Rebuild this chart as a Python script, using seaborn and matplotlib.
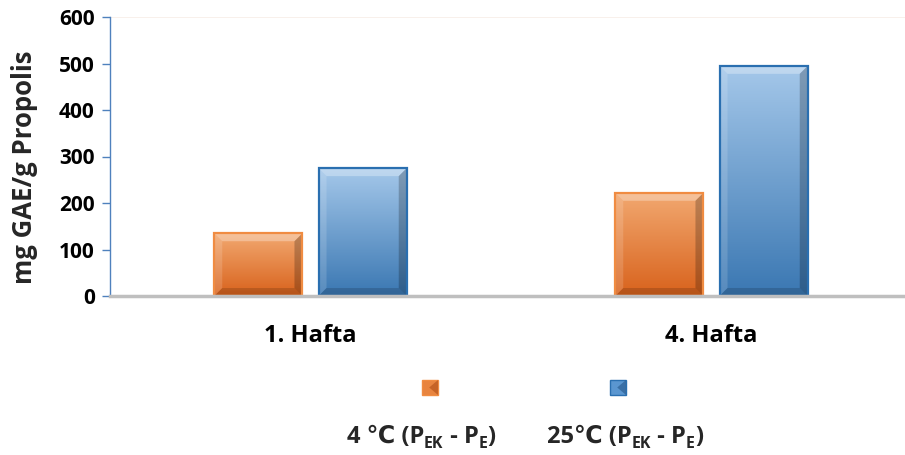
import re
import numpy as np
import pandas as pd
import matplotlib
matplotlib.use("Agg")
import matplotlib.pyplot as plt
import seaborn as sns
from matplotlib.colors import LinearSegmentedColormap
from matplotlib.patches import Polygon, Rectangle

# Data
weeks = ["1. Hafta", "4. Hafta"]
series = ["4 ℃ (P_{EK} - P_{E})", "25℃ (P_{EK} - P_{E})"]
cold_values = [135, 222]
warm_values = [275, 495]
y_ticks = [0, 100, 200, 300, 400, 500, 600]

sns.set_theme(style="white")
FAMILY = ["Open Sans", "DejaVu Sans"]
plt.rcParams["font.family"] = FAMILY
plt.rcParams["font.weight"] = "bold"

df = pd.DataFrame({
    "week": weeks * 2,
    "series": [series[0]] * len(weeks) + [series[1]] * len(weeks),
    "value": cold_values + warm_values,
})

palette = {series[0]: "#E8843F", series[1]: "#5A96D0"}
grad_colors = {series[0]: ("#F2A971", "#D8621C"), series[1]: ("#A5C8EA", "#3A77B2")}
edge_colors = {series[0]: "#F08C42", series[1]: "#2A6FB0"}
shade_colors = {series[0]: "#B8561C", series[1]: "#2C5F93"}

W, H = 905, 455
fig = plt.figure(figsize=(W / 100, H / 100), dpi=100)
ax = fig.add_axes([110 / W, (H - 296) / H, 802 / W, 279 / H])

sns.barplot(data=df, x="week", y="value", hue="series", hue_order=series,
            order=weeks, palette=palette, width=0.52, gap=0.154,
            legend=False, ax=ax, zorder=2)

xlim = (-0.5, 1.5)
ylim = (0, 600)

# bevel thickness, pixels converted to data units
px_x = (xlim[1] - xlim[0]) / 802
px_y = (ylim[1] - ylim[0]) / 279
bev = 8

bars = [p for p in ax.patches if isinstance(p, Rectangle) and p.get_height() > 0]
n = len(weeks)
for i, patch in enumerate(bars):
    s = series[i // n]
    top_c, bot_c = grad_colors[s]
    x0, y0 = patch.get_x(), patch.get_y()
    w, h = patch.get_width(), patch.get_height()
    x1, y1 = x0 + w, y0 + h
    cmap = LinearSegmentedColormap.from_list("g", [top_c, bot_c])
    grad = np.linspace(0, 1, 256)[:, None]
    ax.imshow(grad, extent=(x0, x1, y0, y1), origin="upper", cmap=cmap,
              aspect="auto", zorder=2.1, interpolation="bilinear")
    dx, dy = bev * px_x, bev * px_y
    A, B, C, D = (x0, y0), (x1, y0), (x1, y1), (x0, y1)
    a, b, c, d = (x0 + dx, y0 + dy), (x1 - dx, y0 + dy), (x1 - dx, y1 - dy), (x0 + dx, y1 - dy)
    for pts, col, al in [((D, C, c, d), "white", 0.30),
                         ((A, D, d, a), "white", 0.15),
                         ((B, C, c, b), "black", 0.22),
                         ((A, B, b, a), "black", 0.15)]:
        ax.add_patch(Polygon(pts, closed=True, facecolor=col, alpha=al,
                             edgecolor="none", zorder=2.2))
    ax.add_patch(Rectangle((x0, y0), w, h, facecolor="none",
                           edgecolor=edge_colors[s], lw=1.6, zorder=2.3))
ax.set_xlim(*xlim)
ax.set_ylim(*ylim)

# Axes styling
for side in ["top", "right"]:
    ax.spines[side].set_visible(False)
ax.spines["left"].set_color("#4F81BD")
ax.spines["left"].set_linewidth(1.0)
ax.spines["bottom"].set_color("#BFBFBF")
ax.spines["bottom"].set_linewidth(2.5)
ax.axhline(600, color="#F7EDE8", lw=1.2, zorder=1)

ax.set_yticks(y_ticks)
ax.set_yticklabels([str(t) for t in y_ticks])
ax.tick_params(axis="y", direction="out", length=6, width=1, color="#4F81BD",
               labelsize=15, pad=5, left=True, labelcolor="black")
ax.tick_params(axis="x", length=0, labelsize=17, pad=20, labelcolor="black")
for lab in ax.get_yticklabels() + ax.get_xticklabels():
    lab.set_fontweight("bold")
ax.set_xlabel("")
ax.set_ylabel("")
fig.text(24 / W, (H - 167) / H, "mg GAE/g Propolis", rotation=90,
         ha="center", va="center", fontsize=18.5, fontweight="bold")


def draw_rich_label(text, cx, baseline_y, size, sub_size, sub_drop):
    """Draw text with _{...} subscripts, centred horizontally at cx (pixels)."""
    parts = []
    for tok in re.split(r"(_\{[^}]*\})", text):
        if not tok:
            continue
        if tok.startswith("_{"):
            parts.append((tok[2:-1], sub_size, sub_drop))
        else:
            parts.append((tok, size, 0))
    renderer = fig.canvas.get_renderer()
    objs = []
    for s, fs, drop in parts:
        t = fig.text(0, (H - baseline_y - drop) / H, s, fontsize=fs,
                     fontweight="bold", ha="left", va="baseline")
        objs.append(t)
    widths = [t.get_window_extent(renderer).width for t in objs]
    x = cx - sum(widths) / 2
    for t, wdt in zip(objs, widths):
        t.set_x(x / W)
        x += wdt


# Legend: marker above label for each series
legend_marker_x = [430, 618]
legend_text_x = [421, 625]
for s, mx, tx in zip(series, legend_marker_x, legend_text_x):
    l, b, mw, mh = (mx - 8) / W, (H - 395) / H, 16 / W, 15 / H
    fig.patches.append(Rectangle((l, b), mw, mh, transform=fig.transFigure,
                                 facecolor=palette[s], edgecolor=edge_colors[s],
                                 lw=1.0))
    fig.patches.append(Polygon([(l + mw, b), (l + mw, b + mh),
                                (l + mw * 0.45, b + mh / 2)],
                               closed=True, transform=fig.transFigure,
                               facecolor=shade_colors[s], edgecolor="none",
                               alpha=0.7))
    draw_rich_label(s, tx, 443, 17, 11.5, 5)

fig.savefig("out.png", dpi=100)
